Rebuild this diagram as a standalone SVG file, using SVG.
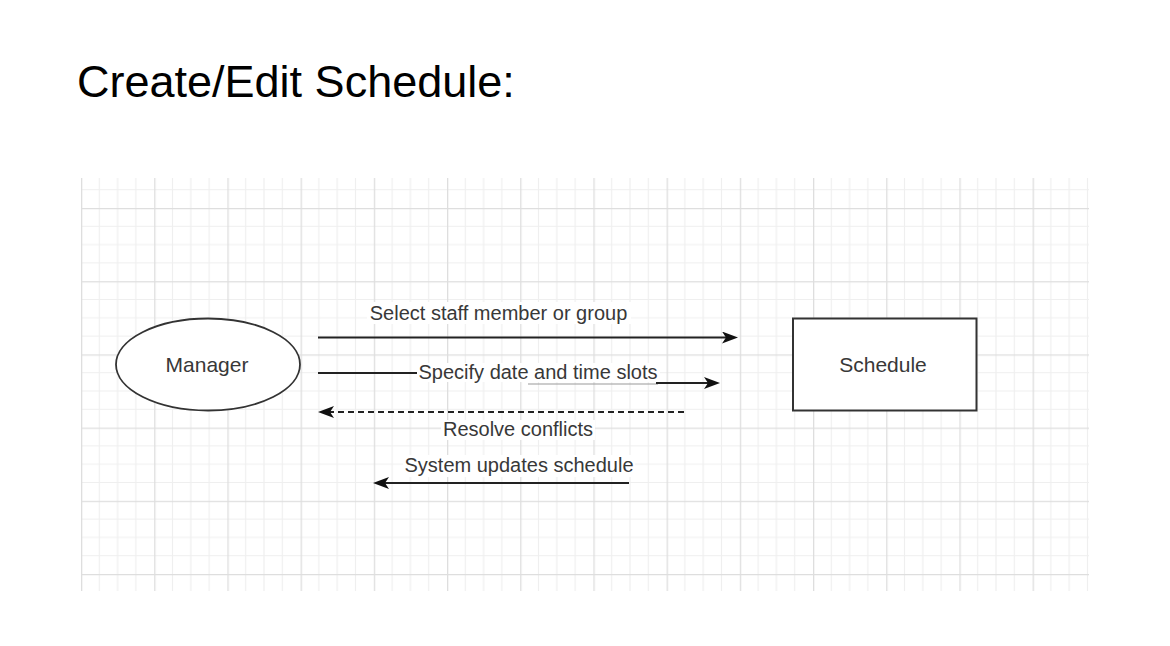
<svg xmlns="http://www.w3.org/2000/svg" width="1170" height="646" viewBox="0 0 1170 646">
<style>
.lbl{font-family:"Liberation Sans",Arial,sans-serif;font-size:20px;fill:#383838;text-anchor:middle}
.node{font-family:"Liberation Sans",Arial,sans-serif;font-size:21px;fill:#383838;text-anchor:middle}
.title{font-family:"Liberation Sans",Arial,sans-serif;font-size:45px;fill:#000}
.edge{stroke:#222;stroke-width:2;fill:none}
.bg{fill:#fff}
</style>
<defs>
<pattern id="grid" patternUnits="userSpaceOnUse" x="81" y="208" width="73.2" height="73.2">
<path d="M18.3,0V73.2M36.6,0V73.2M54.9,0V73.2M0,18.3H73.2M0,36.6H73.2M0,54.9H73.2" stroke="#efefef" stroke-width="1.2" fill="none"/>
<path d="M0.6,0V73.2M0,0.6H73.2" stroke="#dedede" stroke-width="1.4" fill="none"/>
</pattern>
<marker id="arr" viewBox="0 0 16 12" refX="12" refY="6" markerWidth="16" markerHeight="12" markerUnits="userSpaceOnUse" orient="auto">
<path d="M0,0 L16,6 L0,12 L4,6 Z" fill="#111"/>
</marker>
</defs>
<rect width="1170" height="646" fill="#fff"/>
<text class="title" x="77" y="97">Create/Edit Schedule:</text>
<rect x="81" y="178" width="1008" height="413" fill="url(#grid)"/>

<g id="connectors">
<line class="edge" x1="318" y1="337.5" x2="734" y2="337.5" marker-end="url(#arr)"/>
<rect class="bg" x="367" y="302" width="264" height="22"/>
<text class="lbl" x="498.5" y="320">Select staff member or group</text>

<line class="edge" x1="318" y1="373" x2="418" y2="373"/>
<line x1="528" y1="384" x2="658" y2="384" stroke="#999" stroke-width="1.2"/>
<line class="edge" x1="656" y1="383" x2="716" y2="383" marker-end="url(#arr)"/>
<rect class="bg" x="417" y="363" width="243" height="19"/>
<text class="lbl" x="538" y="379">Specify date and time slots</text>

<line class="edge" x1="684" y1="412" x2="322" y2="412" stroke-dasharray="6 4" marker-end="url(#arr)"/>
<rect class="bg" x="441" y="420" width="154" height="20"/>
<text class="lbl" x="518" y="436">Resolve conflicts</text>

<line class="edge" x1="629" y1="483" x2="377" y2="483" marker-end="url(#arr)"/>
<rect class="bg" x="403" y="455" width="232" height="22"/>
<text class="lbl" x="519" y="472">System updates schedule</text>
</g>

<g id="manager">
<ellipse cx="208" cy="364.5" rx="92" ry="46" fill="#fff" stroke="#333" stroke-width="1.8"/>
<text class="node" x="207" y="371.5">Manager</text>
</g>
<g id="schedule">
<rect x="793" y="318.5" width="183.5" height="92" fill="#fff" stroke="#333" stroke-width="2"/>
<text class="node" x="883" y="371.5">Schedule</text>
</g>
</svg>
